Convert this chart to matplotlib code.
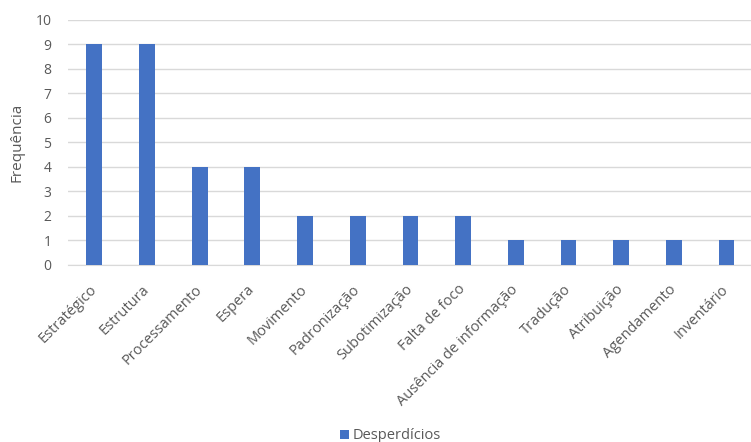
import matplotlib
matplotlib.use("Agg")
import matplotlib.pyplot as plt

categorias = ["Estratégico", "Estrutura", "Processamento", "Espera", "Movimento",
              "Padronização", "Subotimização", "Falta de foco", "Ausência de informação",
              "Tradução", "Atribuição", "Agendamento", "Inventário"]
frequencia = [9, 9, 4, 4, 2, 2, 2, 2, 1, 1, 1, 1, 1]

plt.rcParams['font.family'] = ['Open Sans', 'DejaVu Sans']
texto = '#595959'

fig = plt.figure(figsize=(7.51, 4.42), dpi=100)
ax = fig.add_axes([0.0905, 0.4005, 0.912, 0.5543])

x = range(len(categorias))
ax.bar(x, frequencia, width=0.3, color='#4472C4', label='Desperdícios', zorder=3)

ax.set_xlim(-0.5, len(categorias) - 0.5)
ax.set_ylim(0, 10)
ax.set_yticks(range(0, 11))
ax.yaxis.grid(True, color='#d9d9d9', linewidth=1, zorder=0)
for s in ['top', 'right', 'left']:
    ax.spines[s].set_visible(False)
ax.spines['bottom'].set_color('#d9d9d9')
ax.tick_params(axis='both', length=0, colors=texto, labelsize=10)
ax.tick_params(axis='y', pad=12)
ax.tick_params(axis='x', pad=16)

ax.set_xticks(list(x))
ax.set_xticklabels(categorias, rotation=45, ha='right', va='center',
                   rotation_mode='anchor', fontsize=10.5)
ax.set_ylabel('Frequência', color=texto, fontsize=11, labelpad=8)

fig.legend(loc='lower center', bbox_to_anchor=(0.52, -0.033), frameon=False,
           fontsize=10.5, handlelength=0.6, handleheight=0.6, handletextpad=0.3,
           labelcolor=texto)

fig.savefig('out.png', dpi=100)
